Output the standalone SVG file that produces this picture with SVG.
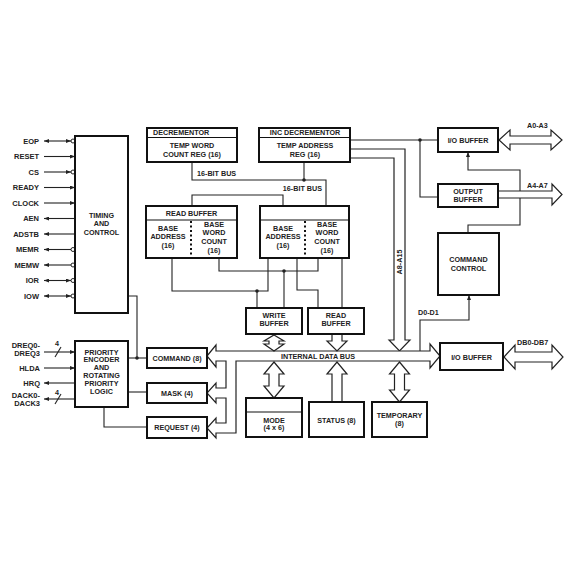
<svg xmlns="http://www.w3.org/2000/svg" width="568" height="568" viewBox="0 0 568 568">
<style>
.box{fill:#fff;stroke:#111;stroke-width:2}
.div{fill:none;stroke:#111;stroke-width:1.2}
.dash{fill:none;stroke:#111;stroke-width:2;stroke-dasharray:2 2.5}
.ln{fill:none;stroke:#222;stroke-width:1.1}
.bus{fill:#fff;stroke:#222;stroke-width:1.2;stroke-linejoin:miter}
.dot{fill:#222}
.bub{fill:#fff;stroke:#222;stroke-width:1}
text{font-family:"Liberation Sans",Arial,sans-serif;font-weight:bold;font-size:7.2px;fill:#222}
.c{text-anchor:middle}
.r{text-anchor:end}
.sig{font-size:7.5px}
</style>
<defs>
<marker id="ah" viewBox="0 0 5 4" refX="5" refY="2" markerWidth="5" markerHeight="4" orient="auto-start-reverse" markerUnits="userSpaceOnUse"><path d="M0,0 L5,2 L0,4 Z" fill="#222"/></marker>
</defs>
<rect width="568" height="568" fill="#fff"/>

<g id="connectors">
<!-- timing signals -->
<line class="ln" x1="44" y1="141" x2="71" y2="141" marker-start="url(#ah)" marker-end="url(#ah)"/>
<line class="ln" x1="44" y1="156.5" x2="75" y2="156.5" marker-end="url(#ah)"/>
<line class="ln" x1="44" y1="172" x2="71" y2="172" marker-end="url(#ah)"/>
<line class="ln" x1="44" y1="187.5" x2="75" y2="187.5" marker-end="url(#ah)"/>
<line class="ln" x1="44" y1="203" x2="75" y2="203" marker-end="url(#ah)"/>
<line class="ln" x1="75" y1="218.5" x2="44" y2="218.5" marker-end="url(#ah)"/>
<line class="ln" x1="75" y1="234" x2="44" y2="234" marker-end="url(#ah)"/>
<line class="ln" x1="71" y1="249.5" x2="44" y2="249.5" marker-end="url(#ah)"/>
<line class="ln" x1="71" y1="265" x2="44" y2="265" marker-end="url(#ah)"/>
<line class="ln" x1="44" y1="280.5" x2="71" y2="280.5" marker-start="url(#ah)" marker-end="url(#ah)"/>
<line class="ln" x1="44" y1="296" x2="71" y2="296" marker-start="url(#ah)" marker-end="url(#ah)"/>
<circle class="bub" cx="73" cy="141" r="2"/>
<circle class="bub" cx="73" cy="172" r="2"/>
<circle class="bub" cx="73" cy="249.5" r="2"/>
<circle class="bub" cx="73" cy="265" r="2"/>
<circle class="bub" cx="73" cy="280.5" r="2"/>
<circle class="bub" cx="73" cy="296" r="2"/>
<!-- encoder signals -->
<line class="ln" x1="44" y1="352" x2="75" y2="352" marker-end="url(#ah)"/>
<line class="ln" x1="55" y1="357" x2="61" y2="347"/>
<line class="ln" x1="44" y1="368" x2="75" y2="368" marker-end="url(#ah)"/>
<line class="ln" x1="75" y1="383" x2="44" y2="383" marker-end="url(#ah)"/>
<line class="ln" x1="75" y1="399" x2="44" y2="399" marker-end="url(#ah)"/>
<line class="ln" x1="55" y1="404" x2="61" y2="394"/>
<!-- timing / encoder to registers -->
<polyline class="ln" points="128,296 137,296 137,358"/>
<line class="ln" x1="128" y1="358" x2="147" y2="358"/>
<line class="ln" x1="128" y1="392" x2="147" y2="392"/>
<polyline class="ln" points="104,407 104,427 147,427"/>
<circle class="dot" cx="137" cy="358" r="1.8"/>
<!-- 16-bit buses -->
<polyline class="ln" points="192,162 192,180 326,180 326,206"/>
<line class="ln" x1="304" y1="162" x2="304" y2="180"/>
<circle class="dot" cx="304" cy="180" r="1.8"/>
<polyline class="ln" points="192,206 192,195 283,195 283,206"/>
<!-- buffers to write/read buffer -->
<polyline class="ln" points="172,258 172,291 268,291 268,258"/>
<line class="ln" x1="257" y1="291" x2="257" y2="308"/>
<circle class="dot" cx="257" cy="291" r="1.8"/>
<polyline class="ln" points="219,258 219,271 318,271 318,258"/>
<line class="ln" x1="284" y1="271" x2="284" y2="308"/>
<circle class="dot" cx="284" cy="271" r="1.8"/>
<polyline class="ln" points="297,258 297,290 318,290 318,308"/>
<line class="ln" x1="342" y1="258" x2="342" y2="308"/>
<!-- address outputs -->
<line class="ln" x1="350" y1="140" x2="438" y2="140"/>
<polyline class="ln" points="420,140 420,197 438,197"/>
<circle class="dot" cx="420" cy="140" r="1.8"/>
<polyline class="ln" points="468,233 468,225 520,225 520,170 468,170 468,152" marker-end="url(#ah)"/>
<polyline class="ln" points="420,351 420,320 469,320 469,295" marker-end="url(#ah)"/>
<!-- A8-A15 bus -->
<path class="bus" d="M350,149 L405,149 L405,340 L410,340 L399.5,351 L389,340 L394,340 L394,158 L350,158"/>
<!-- internal data bus -->
<path class="bus" d="M207,356 L216,345 L216,351 L430,351 L430,344 L440,356 L430,368 L430,361 L236,361 L236,433 L216,433 L216,438 L207,428 L216,418 L216,423 L226,423 L226,398 L216,398 L216,403 L207,393 L216,383 L216,388 L226,388 L226,361 L216,361 L216,367 Z"/>
<!-- vertical bus arrows -->
<path class="bus" d="M274,335 L284,341 L279,341 L279,344 L284,344 L274,351 L264,344 L269,344 L269,341 L264,341 Z"/>
<path class="bus" d="M332,334 L332,341 L327,341 L337,351 L347,341 L342,341 L342,334"/>
<path class="bus" d="M274,362 L284,374 L279,374 L279,386 L284,386 L274,398 L264,386 L269,386 L269,374 L264,374 Z"/>
<path class="bus" d="M332,402 L332,374 L327,374 L337,362 L347,374 L342,374 L342,402"/>
<path class="bus" d="M399.5,362 L409.5,374 L404.5,374 L404.5,390 L409.5,390 L399.5,402 L389.5,390 L394.5,390 L394.5,374 L389.5,374 Z"/>
<!-- right side buses -->
<path class="bus" d="M499,140 L510,130 L510,136 L551,136 L551,130 L562,140 L551,150 L551,144 L510,144 L510,150 Z"/>
<path class="bus" d="M498,191 L552,191 L552,184 L562,194.5 L552,205 L552,198 L498,198"/>
<path class="bus" d="M504,357 L515,345 L515,352 L552,352 L552,345 L563,357 L552,369 L552,362 L515,362 L515,369 Z"/>
<!-- bus labels -->
<text x="197" y="176">16-BIT BUS</text>
<text class="r" x="322" y="191">16-BIT BUS</text>
<text class="c" x="318" y="358.6">INTERNAL DATA BUS</text>
<text class="c" transform="translate(402.1,262) rotate(-90)">A8-A15</text>
<text x="527" y="127.6">A0-A3</text>
<text x="527" y="187.6">A4-A7</text>
<text x="517" y="344.6">DB0-DB7</text>
<text x="418" y="314.6">D0-D1</text>
<text class="c" x="57" y="345.6">4</text>
<text class="c" x="57" y="394.6">4</text>
</g>

<g id="signals">
<text class="r sig" x="39" y="143.7">EOP</text>
<text class="r sig" x="39" y="159.2">RESET</text>
<text class="r sig" x="39" y="174.7">CS</text>
<text class="r sig" x="39" y="190.2">READY</text>
<text class="r sig" x="39" y="205.7">CLOCK</text>
<text class="r sig" x="39" y="221.2">AEN</text>
<text class="r sig" x="39" y="236.7">ADSTB</text>
<text class="r sig" x="39" y="252.2">MEMR</text>
<text class="r sig" x="39" y="267.7">MEMW</text>
<text class="r sig" x="39" y="283.2">IOR</text>
<text class="r sig" x="39" y="298.7">IOW</text>
<text class="r sig" x="40" y="347.6">DREQ0-</text>
<text class="r sig" x="40" y="355.6">DREQ3</text>
<text class="r sig" x="40" y="370.6">HLDA</text>
<text class="r sig" x="40" y="385.6">HRQ</text>
<text class="r sig" x="40" y="397.6">DACK0-</text>
<text class="r sig" x="40" y="405.6">DACK3</text>
</g>

<g id="timing">
<rect class="box" x="75" y="136" width="53" height="177"/>
<text class="c" x="101.5" y="217.6">TIMING</text>
<text class="c" x="101.5" y="226">AND</text>
<text class="c" x="101.5" y="234.6">CONTROL</text>
</g>

<g id="encoder">
<rect class="box" x="75" y="341" width="53" height="66"/>
<text class="c" x="101.5" y="354.5">PRIORITY</text>
<text class="c" x="101.5" y="362.3">ENCODER</text>
<text class="c" x="101.5" y="370.1">AND</text>
<text class="c" x="101.5" y="377.9">ROTATING</text>
<text class="c" x="101.5" y="385.7">PRIORITY</text>
<text class="c" x="101.5" y="393.5">LOGIC</text>
</g>

<g id="decrementor">
<rect class="box" x="147" y="128" width="90" height="34"/>
<line class="div" x1="147" y1="137.5" x2="237" y2="137.5"/>
<text x="153" y="135.3">DECREMENTOR</text>
<text class="c" x="192" y="147.6">TEMP WORD</text>
<text class="c" x="192" y="156.6">COUNT REG (16)</text>
</g>

<g id="inc-decrementor">
<rect class="box" x="259" y="128" width="91" height="34"/>
<line class="div" x1="259" y1="137.5" x2="350" y2="137.5"/>
<text class="c" x="305" y="135.3">INC DECREMENTOR</text>
<text class="c" x="305" y="147.6">TEMP ADDRESS</text>
<text class="c" x="305" y="156.6">REG (16)</text>
</g>

<g id="read-buffer-1">
<rect class="box" x="146" y="206" width="91" height="52"/>
<line class="div" x1="146" y1="220" x2="237" y2="220"/>
<line class="dash" x1="191" y1="221" x2="191" y2="258"/>
<text class="c" x="191.5" y="216.4">READ BUFFER</text>
<text class="c" x="168" y="230.6">BASE</text>
<text class="c" x="168" y="239.3">ADDRESS</text>
<text class="c" x="168" y="248">(16)</text>
<text class="c" x="214" y="226.6">BASE</text>
<text class="c" x="214" y="235.3">WORD</text>
<text class="c" x="214" y="244">COUNT</text>
<text class="c" x="214" y="252.6">(16)</text>
</g>

<g id="read-buffer-2">
<rect class="box" x="260" y="206" width="89" height="52"/>
<line class="div" x1="260" y1="220" x2="349" y2="220"/>
<line class="dash" x1="305" y1="221" x2="305" y2="258"/>
<text class="c" x="283" y="230.6">BASE</text>
<text class="c" x="283" y="239.3">ADDRESS</text>
<text class="c" x="283" y="248">(16)</text>
<text class="c" x="327" y="226.6">BASE</text>
<text class="c" x="327" y="235.3">WORD</text>
<text class="c" x="327" y="244">COUNT</text>
<text class="c" x="327" y="252.6">(16)</text>
</g>

<g id="write-buffer">
<rect class="box" x="246" y="308" width="56" height="26"/>
<text class="c" x="274" y="318.4">WRITE</text>
<text class="c" x="274" y="326.2">BUFFER</text>
</g>

<g id="read-buffer">
<rect class="box" x="308" y="308" width="56" height="26"/>
<text class="c" x="336" y="318.4">READ</text>
<text class="c" x="336" y="326.2">BUFFER</text>
</g>

<g id="command">
<rect class="box" x="147" y="348" width="60" height="20"/>
<text class="c" x="177" y="360.6">COMMAND (8)</text>
</g>
<g id="mask">
<rect class="box" x="147" y="383" width="60" height="20"/>
<text class="c" x="177" y="395.6">MASK (4)</text>
</g>
<g id="request">
<rect class="box" x="147" y="417" width="60" height="21"/>
<text class="c" x="177" y="430.1">REQUEST (4)</text>
</g>

<g id="mode">
<rect class="box" x="246" y="398" width="56" height="39"/>
<line class="div" x1="246" y1="412" x2="302" y2="412"/>
<text class="c" x="274" y="422.6">MODE</text>
<text class="c" x="274" y="430.4">(4 x 6)</text>
</g>
<g id="status">
<rect class="box" x="309" y="402" width="55" height="35"/>
<text class="c" x="336.5" y="422.6">STATUS (8)</text>
</g>
<g id="temporary">
<rect class="box" x="372" y="402" width="55" height="35"/>
<text class="c" x="399.5" y="417.6">TEMPORARY</text>
<text class="c" x="399.5" y="425.6">(8)</text>
</g>

<g id="io-buffer-a">
<rect class="box" x="438" y="128" width="60" height="24"/>
<text class="c" x="468" y="142.6">I/O BUFFER</text>
</g>
<g id="output-buffer">
<rect class="box" x="438" y="184" width="60" height="23"/>
<text class="c" x="468" y="193.6">OUTPUT</text>
<text class="c" x="468" y="201.6">BUFFER</text>
</g>
<g id="command-control">
<rect class="box" x="438" y="233" width="61" height="62"/>
<text class="c" x="468.5" y="261.6">COMMAND</text>
<text class="c" x="468.5" y="270.6">CONTROL</text>
</g>
<g id="io-buffer-db">
<rect class="box" x="440" y="343" width="63" height="27"/>
<text class="c" x="471.5" y="359.6">I/O BUFFER</text>
</g>
</svg>
